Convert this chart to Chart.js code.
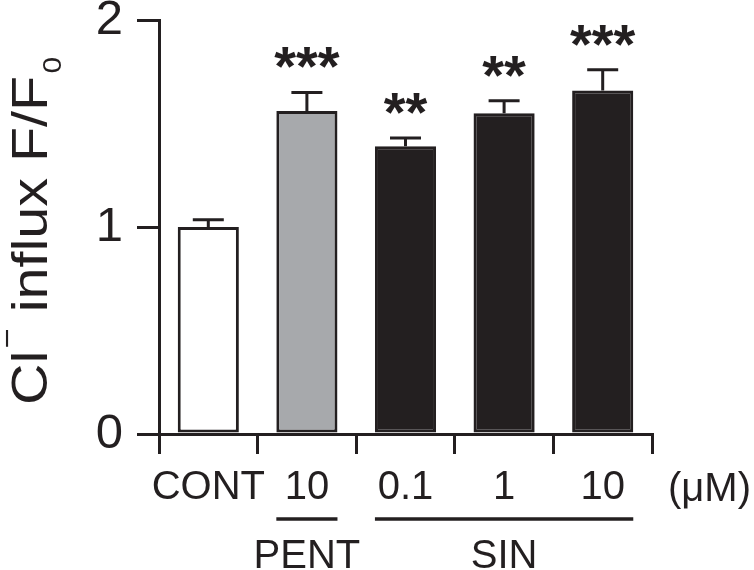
<!DOCTYPE html>
<html>
<head>
<meta charset="utf-8">
<script src="https://cdn.jsdelivr.net/npm/chart.js@4.4.1/dist/chart.umd.min.js"></script>
<style>
  html, body { margin: 0; padding: 0; background: #fff; }
  #wrap { width: 754px; height: 570px; }
</style>
</head>
<body>
<div id="wrap"><canvas id="chl"></canvas></div>
<script>
// bar groups
const labels = ['CONT', '10', '0.1', '1', '10'];
const means  = [1.00, 1.56, 1.39, 1.55, 1.66];
const sems   = [0.035, 0.09, 0.04, 0.06, 0.10];
const stars  = ['', '***', '**', '**', '***'];
const fills  = ['#ffffff', '#a7a9ac', '#231f20', '#231f20', '#231f20'];
const yTicks = [0, 1, 2];
// drug groups under the axis: [name, first bar, last bar]
const groups = [['PENT', 1, 1], ['SIN', 2, 4]];
const unitLabel = '(\u03bcM)';

const INK = '#231f20';
const FONT = '"Liberation Sans", Arial, Helvetica, sans-serif';

// error bars + significance stars
const errPlugin = {
  id: 'errbars',
  afterDatasetsDraw(chart) {
    const ctx = chart.ctx;
    const y = chart.scales.y;
    const meta = chart.getDatasetMeta(0);
    ctx.save();
    ctx.strokeStyle = INK;
    ctx.fillStyle = INK;
    ctx.lineWidth = 3;
    meta.data.forEach((bar, i) => {
      const top = y.getPixelForValue(means[i]);
      const capY = y.getPixelForValue(means[i] + sems[i]);
      ctx.beginPath();
      ctx.moveTo(bar.x, top);
      ctx.lineTo(bar.x, capY);
      ctx.moveTo(bar.x - 15.5, capY);
      ctx.lineTo(bar.x + 15.5, capY);
      ctx.stroke();
      if (stars[i]) {
        ctx.font = 'bold 56px ' + FONT;
        ctx.textAlign = 'center';
        ctx.textBaseline = 'alphabetic';
        const m = ctx.measureText(stars[i]);
        const bottom = capY - 24;
        ctx.fillText(stars[i], bar.x, bottom - m.actualBoundingBoxDescent);
      }
    });
    ctx.restore();
  }
};

// unit label, group lines and names, y title
const annoPlugin = {
  id: 'anno',
  afterDraw(chart) {
    const ctx = chart.ctx;
    const meta = chart.getDatasetMeta(0);
    ctx.save();
    ctx.fillStyle = INK;
    ctx.strokeStyle = INK;

    ctx.font = '40px ' + FONT;
    ctx.textBaseline = 'alphabetic';
    ctx.textAlign = 'left';
    ctx.fillText(unitLabel, 668, 501);

    ctx.lineWidth = 3.5;
    ctx.textAlign = 'center';
    groups.forEach(([name, a, b]) => {
      const b0 = meta.data[a], b1 = meta.data[b];
      const x0 = b0.x - b0.width / 2, x1 = b1.x + b1.width / 2;
      ctx.beginPath();
      ctx.moveTo(x0, 519);
      ctx.lineTo(x1, 519);
      ctx.stroke();
      ctx.fillText(name, (x0 + x1) / 2, 568);
    });

    // rotated y title: Cl- influx F/F0 (a bit stretched along its length, like the figure)
    ctx.translate(47, 405);
    ctx.rotate(-Math.PI / 2);
    ctx.scale(1.15, 1);
    ctx.textAlign = 'left';
    let x = 0;
    ctx.font = '50px ' + FONT;
    ctx.fillText('Cl', x, 0);
    x += ctx.measureText('Cl').width + 2;
    ctx.font = '30px ' + FONT;
    ctx.fillText('\u2212', x, -30);
    x += ctx.measureText('\u2212').width;
    ctx.font = '50px ' + FONT;
    ctx.fillText(' influx F/F', x, 0);
    x += ctx.measureText(' influx F/F').width + 2;
    ctx.font = '26px ' + FONT;
    ctx.fillText('0', x, 14);
    ctx.restore();
  }
};

new Chart(document.getElementById('chl'), {
  type: 'bar',
  data: {
    labels: labels,
    datasets: [{
      data: means,
      backgroundColor: fills,
      borderColor: INK,
      borderWidth: 3,
      borderSkipped: false,
      barPercentage: 0.62,
      categoryPercentage: 1.0
    }]
  },
  options: {
    responsive: true,
    maintainAspectRatio: false,
    animation: false,
    devicePixelRatio: 1,
    layout: { padding: { top: 20, right: 102, left: 0, bottom: 0 } },
    plugins: { legend: { display: false }, tooltip: { enabled: false } },
    scales: {
      x: {
        grid: { offset: true, drawOnChartArea: false, tickLength: 20, lineWidth: 3, color: INK },
        border: { display: true, color: INK, width: 3 },
        ticks: { color: INK, font: { family: FONT, size: 40 }, padding: 10, maxRotation: 0, autoSkip: false },
        afterFit(s) { s.height = 136; s.paddingLeft = 0; s.paddingRight = 0; }
      },
      y: {
        min: 0,
        max: 2,
        afterBuildTicks(s) { s.ticks = yTicks.map(v => ({ value: v })); },
        grid: { drawOnChartArea: false, tickLength: 22, lineWidth: 3, color: INK },
        border: { display: true, color: INK, width: 3 },
        ticks: { color: INK, font: { family: FONT, size: 49 }, padding: 14 },
        afterFit(s) { s.width = 159; s.paddingTop = 0; s.paddingBottom = 0; }
      }
    }
  },
  plugins: [errPlugin, annoPlugin]
});
</script>
</body>
</html>
